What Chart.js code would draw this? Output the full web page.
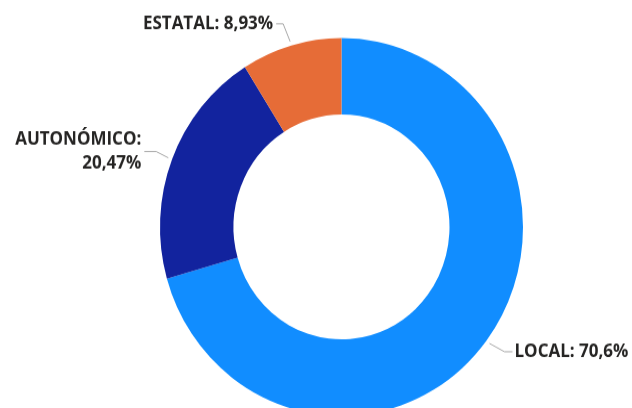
<!DOCTYPE html>
<html lang="es">
<head>
<meta charset="utf-8">
<script src="https://cdn.jsdelivr.net/npm/chart.js@4/dist/chart.umd.min.js"></script>
<style>
  body { margin: 0; background: #ffffff; }
  #marco { width: 632px; height: 408px; overflow: hidden; }
  #estirar { transform: scaleY(1.0408); transform-origin: 0 0; }
</style>
</head>
<body>
<div id="marco">
  <div id="estirar">
    <canvas id="grafico" width="632" height="420"></canvas>
  </div>
</div>
<script>
const categorias = ["LOCAL", "AUTONÓMICO", "ESTATAL"];
const porcentajes = [70.6, 20.47, 8.93];
const colores = ["#118dff", "#12239e", "#e66c37"];

// codo de cada linea guia: desplazamiento desde el borde y tramo horizontal
const guias = [
  { dx: 15, dy: 8, tramo: 8 },
  { dx: -12, dy: -6, tramo: -12, partir: true },
  { dx: -7, dy: -17, tramo: -7 },
];

function formato(v) {
  return v.toString().replace(".", ",") + "%";
}

const etiquetasPlugin = {
  id: "etiquetas",
  afterDatasetsDraw(chart) {
    const ctx = chart.ctx;
    const arcos = chart.getDatasetMeta(0).data;
    ctx.save();
    arcos.forEach((arco, i) => {
      const p = arco.getProps(["x", "y", "startAngle", "endAngle", "outerRadius"], true);
      const medio = (p.startAngle + p.endAngle) / 2;
      const x0 = p.x + Math.cos(medio) * (p.outerRadius + 4);
      const y0 = p.y + Math.sin(medio) * (p.outerRadius + 4);
      const g = guias[i];
      const x1 = x0 + g.dx;
      const y1 = y0 + g.dy;
      const x2 = x1 + g.tramo;

      ctx.strokeStyle = "#a8a8a8";
      ctx.lineWidth = 1;
      ctx.beginPath();
      ctx.moveTo(x0, y0);
      ctx.lineTo(x1, y1);
      ctx.lineTo(x2, y1);
      ctx.stroke();

      ctx.fillStyle = "#252423";
      ctx.font = "bold 17px 'Open Sans'";
      ctx.textBaseline = "middle";
      const derecha = g.tramo > 0;
      ctx.textAlign = derecha ? "left" : "right";
      const tx = x2 + (derecha ? 2 : -3);
      const valor = formato(porcentajes[i]);
      const lineas = g.partir
        ? [categorias[i] + ":", valor]
        : [categorias[i] + ": " + valor];
      lineas.forEach((l, k) => {
        ctx.fillText(l, tx, y1 + (k - (lineas.length - 1) / 2) * 23.4);
      });
    });
    ctx.restore();
  },
};

const grafico = new Chart(document.getElementById("grafico"), {
  type: "doughnut",
  data: {
    labels: categorias,
    datasets: [
      {
        data: porcentajes,
        backgroundColor: colores,
        borderWidth: 0,
      },
    ],
  },
  options: {
    responsive: false,
    animation: false,
    cutout: "59.5%",
    layout: {
      padding: { left: 160, right: 109, top: 36.6, bottom: 20.4 },
    },
    plugins: {
      legend: { display: false },
      tooltip: { enabled: false },
    },
  },
  plugins: [etiquetasPlugin],
});
</script>
</body>
</html>
